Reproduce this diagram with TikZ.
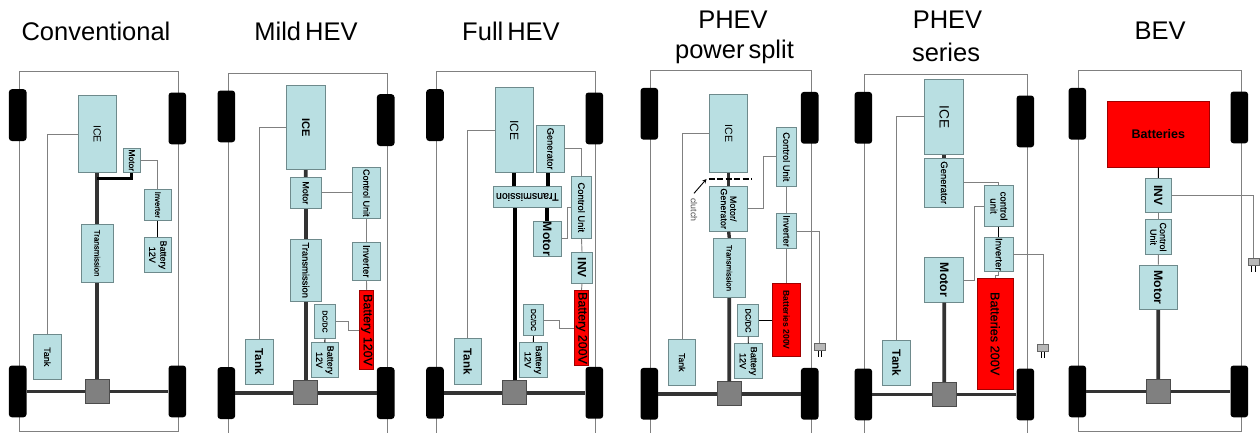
\documentclass[tikz,border=0pt]{standalone}
\usepackage{fontspec}
\usepackage{graphicx}
\setmainfont{Liberation Sans}
\newfontfamily\midfont{Liberation Sans}[FakeBold=0.25]
\definecolor{unitfill}{HTML}{B9DFE2}
\definecolor{unitline}{HTML}{6E8A8C}
\definecolor{redline}{HTML}{A00000}
\newcommand{\vp}[2]{\rotatebox{-90}{\fontsize{#1}{#1}\selectfont\shortstack{#2}}}
\newcommand{\vt}[2]{\rotatebox{-90}{\midfont\fontsize{#1}{#1}\selectfont\shortstack{#2}}}
\newcommand{\vb}[2]{\rotatebox{-90}{\fontsize{#1}{#1}\selectfont\bfseries\shortstack{#2}}}
\newcommand{\ws}{\hspace{4pt}}
\newcommand{\plugat}[3]{
    \node[plug, anchor=north] (plug#1) at (#2,#3) {};
    \draw[prong] ([xshift=-1.7pt]plug#1.south) -- ++(0,6.4);
    \draw[prong] ([xshift=1.7pt]plug#1.south) -- ++(0,6.4);
}
\tikzset{
    span/.style args={#1,#2,#3,#4}{at={({(#1+#3)/2},{(#2+#4)/2})}, minimum width={(#3-#1)*1pt}, minimum height={(#4-#2)*1pt}},
    unit/.style={draw=unitline, fill=unitfill, line width=0.8pt, inner sep=0pt},
    redunit/.style={draw=redline, fill=red, line width=0.8pt, inner sep=0pt},
    wheel/.style={fill=black, rounded corners=3pt, minimum width=17.6pt, minimum height=51.8pt, inner sep=0pt, anchor=north west},
    diff/.style={draw=black!70, fill=black!50, line width=0.8pt, minimum size=24pt, inner sep=0pt},
    plug/.style={draw=black!60, fill=black!28, line width=0.6pt, minimum width=11pt, minimum height=7pt, inner sep=0pt},
    prong/.style={line width=0.8pt, black},
    body/.style={draw=black!50, line width=0.9pt},
    wire/.style={draw=black!50, line width=0.9pt},
    link/.style={draw=black, line width=0.9pt},
    shaft/.style={draw=black!80, line width=3.8pt},
    blackshaft/.style={draw=black, line width=4pt},
    title/.style={font=\fontsize{25.5}{28}\selectfont, align=center, inner sep=0pt}
}
\begin{document}
\begin{tikzpicture}[x=1pt, y=-1pt]
    \clip (0,0) rectangle (1260,432);
    \fill[white] (0,0) rectangle (1260,432);
    % Titles
    \node[title] (title1) at (96,31) {Conventional};
    \node[title] (title2) at (306,31) {Mild\ws HEV};
    \node[title] (title3) at (511,31) {Full\ws HEV};
    \node[title] (title4a) at (733,20) {PHEV};
    \node[title] (title4b) at (734.5,52) {power\ws split};
    \node[title] (title5a) at (947.5,20) {PHEV};
    \node[title] (title5b) at (946,52) {series};
    \node[title] (title6) at (1160,31) {BEV};
    % Body, wheels, axle and differential of each car
    \foreach \id/\bl/\br/\bt/\bb/\wl/\wr/\ya/\yb/\yc/\dx/\dy in {
        1/19.3/178.3/71.7/431/8.7/168.3/89/92.3/365.3/97.3/391.3,
        2/228.3/387.7/73.3/437/217.3/376.7/90.3/94/367/305.8/392.7,
        3/436.7/595.7/71.7/437/426/585.3/89/92.3/366.7/514.5/392.7,
        4/650.3/811.3/70.7/437/640.3/800.7/87.7/91.7/367.7/729.3/393.8,
        5/864.7/1027.3/74.3/437/854.3/1016.3/91.7/95.3/368.3/944.3/394.3,
        6/1078.7/1241/70.3/431/1068.3/1230.3/87.7/91.3/365.3/1158.3/391.3} {
        \draw[body] (\bl,\bt) rectangle (\br,\bb);
        \node[wheel] (wheelA\id) at (\wl,\ya) {};
        \node[wheel] (wheelB\id) at (\wr,\yb) {};
        \node[wheel] (wheelC\id) at (\wl,\yc) {};
        \node[wheel] (wheelD\id) at (\wr,\yc) {};
        \draw[shaft] (wheelC\id.east) -- (wheelD\id.west);
        \node[diff] (diff\id) at (\dx,\dy) {};
    }
    % Conventional
    \node[unit, span={78.3,95.7,116.3,172.3}] (ice1) {\vp{10.5}{ICE}};
    \node[unit, span={123.3,148.3,140.3,172.3}] (mot1) {\vt{8.5}{Motor}};
    \node[unit, span={144,189.3,171.7,220.3}] (inv1) {\vt{7.7}{Inverter}};
    \node[unit, span={144,237.3,171.7,272.3}] (bat1) {\vt{9}{Battery\\12V}};
    \node[unit, span={81.3,224,113.3,282.3}] (trans1) {\vt{7.9}{Transmission}};
    \node[unit, span={33.3,334.3,61.3,379.3}] (tank1) {\vt{9}{Tank}};
    \coordinate (tap1) at (97.3,178.3);
    \draw[shaft] (ice1.south) -- (trans1.north);
    \draw[shaft] (trans1.south) -- (diff1.north);
    \draw[black, line width=3pt] (mot1.south) |- (tap1);
    \draw[wire] (tank1.north) |- (ice1.west);
    \draw[wire] (mot1.east) -| (inv1.north);
    \draw[link] (inv1.south) -- (bat1.north);
    % Mild HEV
    \node[unit, span={286.7,85,324.9,169.7}] (ice2) {\vb{11}{ICE}};
    \node[unit, span={290.3,177.3,321.3,208.3}] (mot2) {\vt{9}{Motor}};
    \node[unit, span={352.7,167.3,380.3,218.3}] (cu2) {\vt{9}{Control Unit}};
    \node[unit, span={352.7,242.3,380.3,280.3}] (inv2) {\vt{9.6}{Inverter}};
    \node[redunit, span={359.7,290.3,373.7,369.7}] (batt2) {\vt{12.4}{Battery 120V}};
    \node[unit, span={290.3,239,321.3,301.3}] (trans2) {\vt{9.4}{Transmission}};
    \node[unit, span={314.7,304.7,335.3,338.3}] (dc2) {\vt{7}{DC/DC}};
    \node[unit, span={311,342.7,338.7,377.3}] (bat2) {\vt{9}{Battery\\12V}};
    \node[unit, span={245.7,339.3,273,384.3}] (tank2) {\vb{11.5}{Tank}};
    \draw[shaft] (ice2.south) -- (mot2.north);
    \draw[shaft] (mot2.south) -- (trans2.north);
    \draw[shaft] (trans2.south) -- (diff2.north);
    \draw[wire] (tank2.north) |- (ice2.west);
    \draw[wire] (mot2.east) -- (cu2.west);
    \draw[wire] (cu2.south) -- (inv2.north);
    \draw[wire] (inv2.south) -- (batt2.north);
    \draw[wire] (dc2.east) -- ++(12.4,0) |- (batt2.west);
    \draw[link] (dc2.south) -- (bat2.north);
    % Full HEV
    \node[unit, span={495.3,87.7,533.3,172.3}] (ice3) {\vp{12}{ICE}};
    \node[unit, span={536.7,125,564.3,172.3}] (gen3) {\vt{9.3}{Generator}};
    \node[unit, span={493.3,186.7,561.3,207.3}] (trans3) {\rotatebox{180}{\midfont\fontsize{10.6}{10.6}\selectfont Transmission}};
    \node[unit, span={571.3,176.3,591.7,238.3}] (cu3) {\vt{9.4}{Control Unit}};
    \node[unit, span={533.3,221.3,561.3,256.3}] (mot3) {\vb{12.2}{Motor}};
    \node[unit, span={571.3,252.3,592.7,283.3}] (inv3) {\vb{12}{INV}};
    \node[redunit, span={574.3,290.3,588.7,365.7}] (batt3) {\vt{12.4}{Battery 200V}};
    \node[unit, span={523.3,304.3,543.7,335.7}] (dc3) {\vt{7}{DC/DC}};
    \node[unit, span={519.3,342.3,547.3,377.3}] (bat3) {\vt{9}{Battery\\12V}};
    \node[unit, span={454.3,338.7,481.3,384.3}] (tank3) {\vb{11.5}{Tank}};
    \draw[blackshaft] (ice3.south) -- (ice3.south |- trans3.north);
    \draw[blackshaft] ([xshift=-2.5pt]gen3.south) -- ([xshift=-2.5pt]gen3.south |- trans3.north);
    \draw[blackshaft] (mot3.north) -- (mot3.north |- trans3.south);
    \draw[blackshaft] (diff3.north) -- (diff3.north |- trans3.south);
    \draw[wire] (tank3.north) |- (ice3.west);
    \draw[wire] (gen3.east) -| (cu3.north);
    \draw[wire] (mot3.east) -- ++(5.4,0) |- (cu3.west);
    \draw[wire] (cu3.south) -- (inv3.north);
    \draw[wire] (inv3.south) -- (batt3.north);
    \draw[wire] (dc3.east) -- ++(15.6,0) |- (batt3.west);
    \draw[link] (dc3.south) -- (bat3.north);
    % PHEV power split
    \node[unit, span={709.7,94.7,747.7,172.3}] (ice4) {\vp{10.5}{ICE}};
    \node[unit, span={776.3,127.3,796.7,186.3}] (cu4) {\vt{9.3}{Control Unit}};
    \node[unit, span={709.7,186,747.7,231.3}] (mg4) {\vt{9}{Motor/\\Generator}};
    \node[unit, span={776.3,213.7,796.7,248.3}] (inv4) {\vt{9.3}{Inverter}};
    \node[unit, span={713.7,238.3,744.9,297.7}] (trans4) {\vt{7.8}{Transmission}};
    \node[redunit, span={772.7,283.3,800.3,356.7}] (batt4) {\vb{8.6}{Batteries 200V}};
    \node[unit, span={737.7,304.7,758.7,336.3}] (dc4) {\vt{7.6}{DC/DC}};
    \node[unit, span={734.3,343.7,762.3,378.3}] (bat4) {\vt{9}{Battery\\12V}};
    \node[unit, span={668.3,339.3,695.7,385.3}] (tank4) {\vt{8.7}{Tank}};
    \node[inner sep=1pt, text=black!70] (clutch4) at (694,210) {\vp{8.8}{clutch}};
    \coordinate (clutchL) at (706.5,179);
    \coordinate (clutchR) at (752.3,179);
    \draw[shaft, line width=3.4pt] (ice4.south) -- (mg4.north);
    \draw[shaft, line width=3.4pt] (mg4.south) -- (trans4.north);
    \draw[shaft] (trans4.south) -- (diff4.north);
    \draw[line width=1.5pt, dash pattern=on 6pt off 2.5pt] ([xshift=2pt]clutchL) -- (clutchR);
    \draw[->, >=stealth, line width=0.9pt] ([yshift=4pt]clutch4.north) -- (clutchL);
    \draw[wire] (tank4.north) |- (ice4.west);
    \draw[wire] (mg4.east) -- ++(15,0) |- (cu4.west);
    \draw[wire] (cu4.south) -- (inv4.north);
    \draw[wire] (inv4.south) -- (batt4.north);
    \plugat{4}{819.8}{343.3}
    \draw[wire] (inv4.east) -| (plug4.north);
    \draw[link] (dc4.east) -- (batt4.west |- dc4.east);
    \draw[link] (dc4.south) -- (bat4.north);
    % PHEV series
    \node[unit, span={924.7,79,963.7,154.7}] (ice5) {\vp{13.6}{ICE}};
    \node[unit, span={924.7,158.3,963.7,207}] (gen5) {\vt{9.5}{Generator}};
    \node[unit, span={984.7,185.7,1013,226.3}] (cu5) {\vt{9.6}{control\\unit}};
    \node[unit, span={984.7,237.3,1013,271.3}] (inv5) {\vt{9.6}{Inverter}};
    \node[unit, span={924.7,257.7,963.7,302.3}] (mot5) {\vb{12.3}{Motor}};
    \node[redunit, span={977.3,278.3,1013,389}] (batt5) {\vt{12.7}{Batteries 200V}};
    \node[unit, span={882.7,340.3,910.7,385.7}] (tank5) {\vb{11.8}{Tank}};
    \draw[shaft] (ice5.south) -- (gen5.north);
    \draw[shaft] (mot5.south) -- (diff5.north);
    \draw[wire] (tank5.north) |- (ice5.west);
    \draw[wire] (gen5.east) -| (cu5.north);
    \draw[wire] (mot5.east) -- ++(10.6,0) |- (cu5.west);
    \draw[link] (cu5.south) -- (inv5.north);
    \draw[wire] (inv5.south) -- ++(0,3.5) -| (batt5.north);
    \plugat{5}{1043}{344.3}
    \draw[wire] (inv5.east) -| (plug5.north);
    % BEV
    \node[redunit, span={1107,101.3,1209.7,167.3}] (batt6) {\fontsize{12.5}{12.5}\selectfont\bfseries Batteries};
    \node[unit, span={1145.3,178.3,1171.3,212.3}] (inv6) {\vb{12}{INV}};
    \node[unit, span={1145.3,219.7,1171.3,254.3}] (cu6) {\vt{9}{Control\\Unit}};
    \node[unit, span={1138.9,265,1177.7,309.7}] (mot6) {\vb{12.3}{Motor}};
    \draw[link] (batt6.south) -- (inv6.north);
    \draw[wire] (inv6.south) -- (cu6.north);
    \draw[wire] (cu6.south) -- (mot6.north);
    \draw[shaft] (mot6.south) -- (diff6.north);
    \plugat{6}{1253.5}{258.3}
    \draw[wire] (inv6.east) -| (plug6.north);
\end{tikzpicture}
\end{document}
